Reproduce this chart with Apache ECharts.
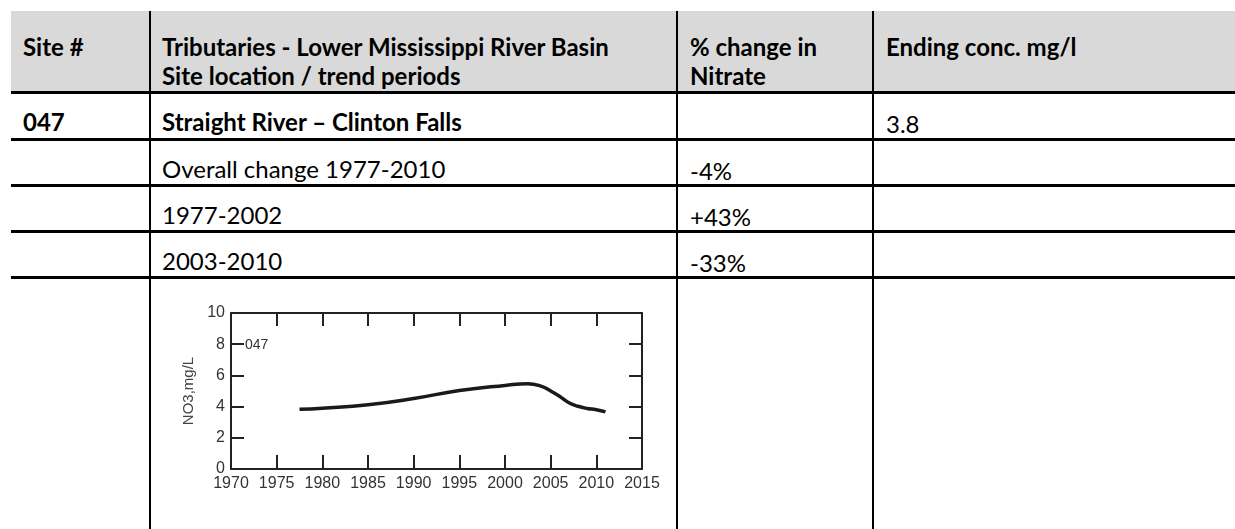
<!DOCTYPE html>
<html>
<head>
<meta charset="utf-8">
<script src="https://cdn.jsdelivr.net/npm/echarts@6/dist/echarts.min.js"></script>
<style>
html,body{margin:0;padding:0;background:#fff;width:1235px;height:529px;overflow:hidden;}
#page{position:relative;width:1235px;height:529px;font-family:Lato,'Open Sans',sans-serif;color:#000;}
.hdr{position:absolute;left:11px;top:11px;width:1224px;height:81px;background:#d9d9d9;}
.h{position:absolute;left:11px;width:1224px;height:3px;background:#000;}
.v{position:absolute;top:11px;width:2px;height:518px;background:#000;}
.t{position:absolute;font-size:24px;line-height:30px;white-space:nowrap;}
.b{font-weight:bold;}
#chart{position:absolute;left:152px;top:279px;width:524px;height:250px;}
</style>
</head>
<body>
<div id="page">
  <div class="hdr"></div>
  <div id="chart"></div>
</div>
<script>
// ---- table content ----
const headerCells = [
  ["Site #"],
  ["Tributaries - Lower Mississippi River Basin", "Site location / trend periods"],
  ["% change in", "Nitrate"],
  ["Ending conc. mg/l"]
];
const siteIds   = ["047", "", "", ""];
const rowLabels = ["Straight River \u2013 Clinton Falls", "Overall change 1977-2010", "1977-2002", "2003-2010"];
const pctChange = ["", "-4%", "+43%", "-33%"];
const endConc   = ["3.8", "", "", ""];
const boldRow   = [true, false, false, false];

// ---- chart data ----
const years = [1977.5, 1980, 1985, 1990, 1995, 2000, 2002.5, 2004, 2005, 2006, 2007, 2008, 2009, 2010, 2011];
const no3   = [3.83, 3.9, 4.12, 4.52, 5.03, 5.36, 5.47, 5.3, 5.0, 4.65, 4.25, 4.02, 3.88, 3.8, 3.66];
const siteLabel = "047";
const siteLabelAt = [1970, 8];
const yName = "NO3,mg/L";

// ---- layout ----
const colText = [23, 162, 690, 886];
const vLines = [150, 677, 873];
const hLines = [92, 139, 185, 231, 277];
const rowTops = [92, 139, 185, 231];

const page = document.getElementById('page');
function add(cls, style, text){
  const d = document.createElement('div');
  d.className = cls;
  Object.assign(d.style, style);
  if (text !== undefined) d.textContent = text;
  page.appendChild(d);
  return d;
}
hLines.forEach(y => add('h', {top: (y - 1) + 'px'}));
vLines.forEach(x => add('v', {left: (x - 1) + 'px'}));

headerCells.forEach((lines, c) => {
  lines.forEach((txt, i) => {
    add('t b', {left: colText[c] + 'px', top: (32 + i * 29) + 'px'}, txt);
  });
});
rowTops.forEach((top, r) => {
  const cells = [siteIds[r], rowLabels[r], pctChange[r], endConc[r]];
  cells.forEach((txt, c) => {
    if (!txt) return;
    const bold = boldRow[r] && c < 2;
    add('t' + (bold ? ' b' : ''), {left: colText[c] + 'px', top: (top + 15 + (c >= 2 ? 2 : 0)) + 'px'}, txt);
  });
});

// ---- chart ----
const chart = echarts.init(document.getElementById('chart'), null, {renderer: 'canvas'});
const font = "'Liberation Sans Narrow','Liberation Sans',Arial,sans-serif";
const axisLine = {show: true, onZero: false, lineStyle: {color: '#222', width: 2}};
const tickStyle = {color: '#222', width: 2};
chart.setOption({
  animation: false,
  grid: {left: 79, right: 34, top: 34, bottom: 60, containLabel: false},
  xAxis: [
    {type: 'value', min: 1970, max: 2015, interval: 5, position: 'bottom',
     axisLine: axisLine, axisTick: {show: true, inside: true, length: 14, lineStyle: tickStyle},
     axisLabel: {color: '#333', fontFamily: font, fontSize: 16, margin: 7, formatter: v => String(v)},
     splitLine: {show: false}},
    {type: 'value', min: 1970, max: 2015, interval: 5, position: 'top',
     axisLine: axisLine, axisTick: {show: true, inside: true, length: 13, lineStyle: tickStyle},
     axisLabel: {show: false}, splitLine: {show: false}}
  ],
  yAxis: [
    {type: 'value', min: 0, max: 10, interval: 2, position: 'left',
     name: yName, nameLocation: 'middle', nameGap: 26, nameRotate: 90,
     nameTextStyle: {color: '#444', fontFamily: font, fontSize: 15},
     axisLine: axisLine, axisTick: {show: true, inside: true, length: 13, lineStyle: tickStyle},
     axisLabel: {color: '#333', fontFamily: font, fontSize: 16, margin: 6},
     splitLine: {show: false}},
    {type: 'value', min: 0, max: 10, interval: 2, position: 'right',
     axisLine: axisLine, axisTick: {show: true, inside: true, length: 13, lineStyle: tickStyle},
     axisLabel: {show: false}, splitLine: {show: false}}
  ],
  series: [{
    type: 'line', smooth: true, showSymbol: false,
    data: years.map((y, i) => [y, no3[i]]),
    lineStyle: {color: '#1a1a1a', width: 3.5}
  }]
});
const p = chart.convertToPixel({gridIndex: 0}, siteLabelAt);
chart.setOption({
  graphic: [{
    type: 'text', x: p[0] + 14, y: p[1] + 1,
    style: {text: siteLabel, fill: '#333', font: "14px 'Liberation Sans Narrow','Liberation Sans',Arial,sans-serif",
            verticalAlign: 'middle', align: 'left'}
  }]
});
</script>
</body>
</html>
